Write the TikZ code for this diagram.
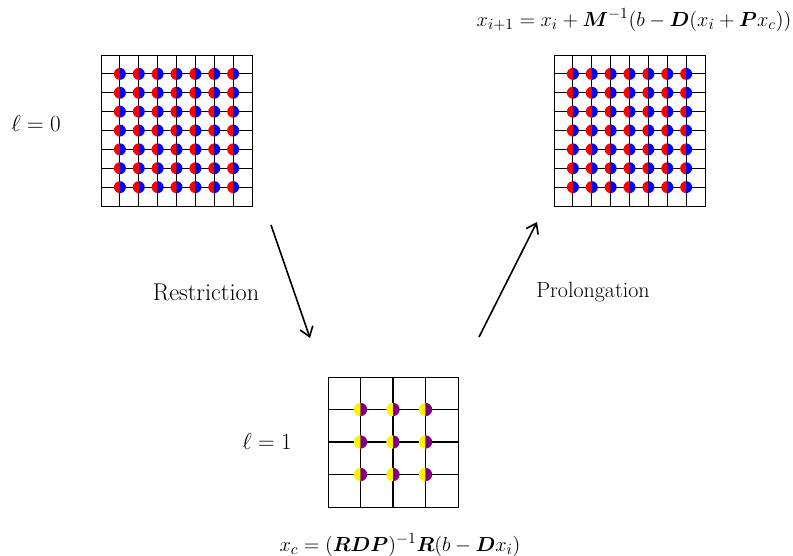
\documentclass[tikz,border=0pt]{standalone}
\usepackage{amsmath,bm}
\usetikzlibrary{arrows.meta}
\definecolor{dotpurple}{RGB}{128,0,128}
\tikzset{
  gridbox/.style={draw=black, line width=0.9pt, minimum width=#1*0.75pt, minimum height=#1*0.75pt, inner sep=0pt, anchor=north west},
  gridline/.style={line width=0.8pt, black},
  lbl/.style={font=\fontsize{16.5}{20}\selectfont, inner sep=0pt},
  formula/.style={font=\fontsize{15}{18}\selectfont, inner sep=0pt},
  flow/.style={-{Straight Barb[length=7pt,width=10pt,line width=1.2pt]}, line width=1.2pt}
}
\newcommand{\halfdot}[5]{% x y r(pt) leftcolor rightcolor
  \fill[#4] (#1,#2) ++(0pt,#3) arc[start angle=90, end angle=270, radius=#3] -- cycle;
  \fill[#5] (#1,#2) ++(0pt,#3) arc[start angle=90, end angle=-90, radius=#3] -- cycle;
}
\begin{document}
\begin{tikzpicture}[x=0.75pt,y=-0.75pt]
\useasboundingbox (0,0) rectangle (793,556);
% top-left grid
\node[gridbox=151] (g0) at (101,55) {};
\foreach \i in {1,...,7} {
  \draw[gridline] (101+18.875*\i,55) -- (101+18.875*\i,206);
  \draw[gridline] (101,55+18.875*\i) -- (252,55+18.875*\i);
}
\foreach \i in {1,...,7} \foreach \j in {1,...,7} {
  \halfdot{101+18.875*\i}{55+18.875*\j}{4.5pt}{red}{blue}
}
% top-right grid
\node[gridbox=151] (g2) at (554,55) {};
\foreach \i in {1,...,7} {
  \draw[gridline] (554+18.875*\i,55) -- (554+18.875*\i,206);
  \draw[gridline] (554,55+18.875*\i) -- (705,55+18.875*\i);
}
\foreach \i in {1,...,7} \foreach \j in {1,...,7} {
  \halfdot{554+18.875*\i}{55+18.875*\j}{4.5pt}{red}{blue}
}
% bottom grid
\node[gridbox=130] (g1) at (328,377) {};
\foreach \i in {1,...,3} {
  \draw[gridline] (328+32.5*\i,377) -- (328+32.5*\i,507);
  \draw[gridline] (328,377+32.5*\i) -- (458,377+32.5*\i);
}
\foreach \i in {1,...,3} \foreach \j in {1,...,3} {
  \halfdot{328+32.5*\i}{377+32.5*\j}{5pt}{yellow}{dotpurple}
}
% labels
\node[lbl] (l0) at (36,124) {$\ell = 0$};
\node[lbl] (l1) at (267,441) {$\ell = 1$};
\node[lbl, font=\fontsize{18.2}{22}\selectfont] (restr) at (206,292) {Restriction};
\node[lbl] (prol) at (593,292) {Prolongation};
\node[formula] (f0) at (634,20) {\scalebox{1.06}{$x_{i+1} = x_i + \bm{M}^{-1}(b - \bm{D}(x_i + \bm{P}x_c))$}};
\node[formula] (f1) at (400,545) {\scalebox{1.06}{$x_c = (\bm{RDP})^{-1}\bm{R}(b - \bm{D}x_i)$}};
% arrows
\coordinate (a1s) at (271,225);
\coordinate (a1e) at (310,338);
\coordinate (a2s) at (479,337);
\coordinate (a2e) at (537,222);
\draw[flow] (a1s) -- (a1e);
\draw[flow] (a2s) -- (a2e);
\end{tikzpicture}
\end{document}
